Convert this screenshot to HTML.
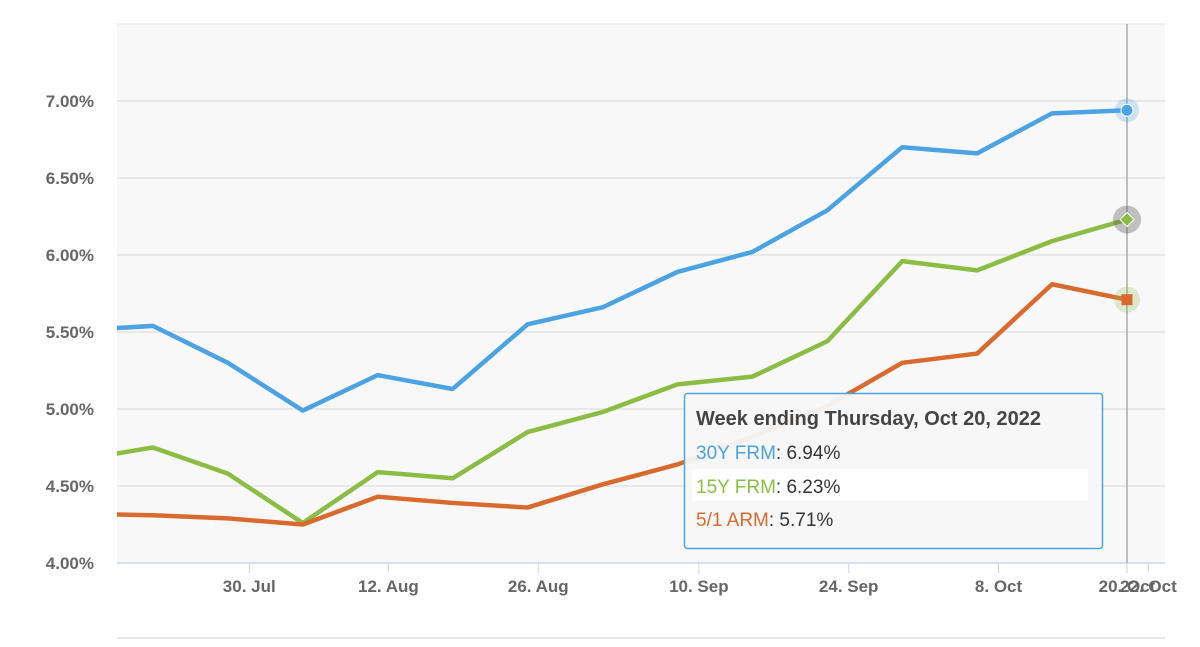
<!DOCTYPE html>
<html><head><meta charset="utf-8"><style>
body{margin:0;background:#fff;font-family:"Liberation Sans",sans-serif}
svg text{font-family:"Liberation Sans",sans-serif}
</style></head><body>
<svg width="1200" height="642">
<defs><clipPath id="pc"><rect x="117" y="24" width="1048" height="540"/></clipPath></defs>
<rect x="117" y="24" width="1048" height="539" fill="#f8f8f8"/>
<line x1="117" y1="24" x2="1165" y2="24" stroke="#e6e6e6"/>
<g id="grid"></g><g id="xaxis"></g>
<line x1="1127" y1="24" x2="1127" y2="563" stroke="#aaa" stroke-width="1.5"/>
<g id="series" clip-path="url(#pc)"></g>
<g id="markers"></g>
<line x1="117" y1="638" x2="1165" y2="638" stroke="#ccc"/>
<g>
<rect x="684.5" y="393.5" width="418" height="155" rx="3" fill="#f7f7f7" fill-opacity="0.95" stroke="#4ba3e3" stroke-width="1.5"/>
<rect x="692" y="469" width="396" height="32" fill="#fff"/>
<text x="696" y="425" font-size="20" font-weight="bold" fill="#444">Week ending Thursday, Oct 20, 2022</text>
<text x="696" y="459" font-size="19" fill="#333"><tspan fill="#4ba3e3">30Y FRM</tspan>:  6.94%</text>
<text x="696" y="493" font-size="19" fill="#333"><tspan fill="#8bbd44">15Y FRM</tspan>:  6.23%</text>
<text x="696" y="526" font-size="19" fill="#333"><tspan fill="#d96a2e">5/1 ARM</tspan>:  5.71%</text>
</g>
</svg>
<script>
const weeks=[0,1,2,3,4,5,6,7,8,9,10,11,12,13,14]; // weeks from Jul 14 2022
const frm30=[5.51,5.54,5.30,4.99,5.22,5.13,5.55,5.66,5.89,6.02,6.29,6.70,6.66,6.92,6.94];
const frm15=[4.67,4.75,4.58,4.26,4.59,4.55,4.85,4.98,5.16,5.21,5.44,5.96,5.90,6.09,6.23];
const arm51=[4.32,4.31,4.29,4.25,4.43,4.39,4.36,4.51,4.64,4.82,5.02,5.30,5.36,5.81,5.71];
const yTicks=[4.0,4.5,5.0,5.5,6.0,6.5,7.0];
const xTickDays=[16,29,43,58,72,86,98,100]; // days from Jul 14
const xTickLabels=["30. Jul","12. Aug","26. Aug","10. Sep","24. Sep","8. Oct","20. Oct","22. Oct"];
const NS="http://www.w3.org/2000/svg";
const xd=d=>78+d*(1127-78)/98;
const xw=w=>xd(w*7);
const y=v=>563-(v-4)*154;
function mk(t,a,p){const e=document.createElementNS(NS,t);for(const k in a)e.setAttribute(k,a[k]);p.appendChild(e);return e;}
const grid=document.getElementById('grid');
yTicks.forEach(v=>{
 if(v>4){const l=mk('line',{x1:117,x2:1165,y1:y(v),y2:y(v),stroke:'#e3e3e3','stroke-width':1.5},grid);
 
 }
 const t=mk('text',{x:94,y:y(v)+6,'text-anchor':'end','font-size':17,'font-weight':'bold',fill:'#666'},grid);
 t.textContent=v.toFixed(2)+'%';
 
 
});
const xa=document.getElementById('xaxis');
const al=mk('line',{x1:117,x2:1165,y1:563,y2:563,stroke:'#ccd6eb','stroke-width':1.5},xa);


xTickDays.forEach((d,i)=>{
 const tk=mk('line',{x1:xd(d),x2:xd(d),y1:563,y2:573,stroke:'#ccd6eb'},xa);
 
 
 const t=mk('text',{x:xd(d),y:592,'text-anchor':'middle','font-size':17,'font-weight':'bold',fill:'#666'},xa);
 t.textContent=xTickLabels[i];
 
 
});
const sg=document.getElementById('series'),mg=document.getElementById('markers');
[[frm30,'#4ba3e3','series-30y-frm'],[frm15,'#8bbd44','series-15y-frm'],[arm51,'#d96a2e','series-5-1-arm']].forEach(([s,c,n])=>{
 const p=mk('path',{d:s.map((v,i)=>(i?'L':'M')+xw(weeks[i])+','+y(v)).join(''),fill:'none',stroke:c,'stroke-width':4.5,'stroke-linejoin':'round'},sg);
 
 
});
const L=weeks.length-1,lx=xw(weeks[L]);
const h1=mk('circle',{cx:lx,cy:y(frm30[L]),r:12,fill:'#4ba3e3','fill-opacity':0.25},mg);

const m1=mk('circle',{cx:lx,cy:y(frm30[L]),r:6,fill:'#4ba3e3',stroke:'#fff','stroke-width':1},mg);

const h2=mk('circle',{cx:lx,cy:y(frm15[L]),r:14,fill:'#555','fill-opacity':0.35},mg);

const yy=y(frm15[L]);
const m2=mk('path',{d:`M${lx},${yy-7}L${lx+7},${yy}L${lx},${yy+7}L${lx-7},${yy}Z`,fill:'#8bbd44',stroke:'#fff'},mg);

const h3=mk('circle',{cx:lx,cy:y(arm51[L]),r:13,fill:'#8bbd44','fill-opacity':0.25},mg);

const m3=mk('rect',{x:lx-5.5,y:y(arm51[L])-5.5,width:11,height:11,fill:'#d96a2e'},mg);

</script>
</body></html>
